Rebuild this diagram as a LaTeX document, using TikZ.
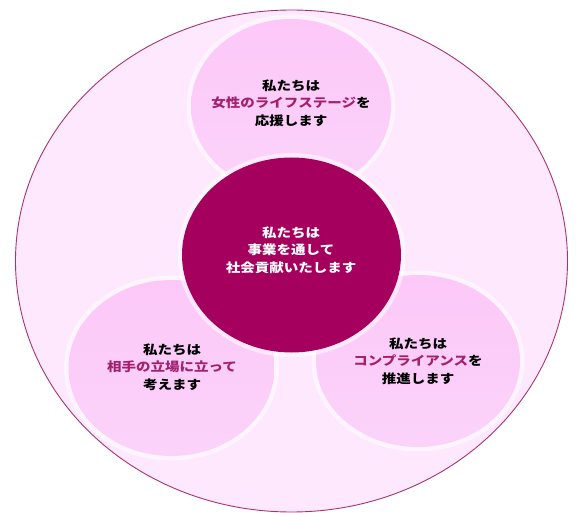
\documentclass[tikz,border=0pt]{standalone}
\usepackage{fontspec}
\setmainfont{Noto Sans CJK JP}[FakeStretch=1.16]
\usetikzlibrary{shapes.geometric}
\definecolor{outerfill}{HTML}{FDE8FD}
\definecolor{outerline}{HTML}{A8346E}
\definecolor{petal}{HTML}{FCC8F8}
\definecolor{petallow}{HTML}{FBD3F9}
\definecolor{core}{HTML}{A6005F}
\definecolor{accent}{HTML}{A3206E}
\tikzset{
  outerbox/.style={ellipse, draw=outerline, line width=0.9pt, fill=outerfill, inner sep=0pt},
  petalbox/.style={ellipse, inner sep=0pt, top color=petal, bottom color=petallow,
    preaction={draw=white, draw opacity=0.55, line width=9pt}},
  corebox/.style={ellipse, inner sep=0pt, fill=core,
    preaction={draw=white, draw opacity=0.55, line width=9pt}},
  txt/.style={align=center, font=\fontsize{12.5}{17.6}\selectfont\bfseries, text=black, inner sep=0pt},
  wtxt/.style={txt, text=white},
}
\begin{document}
\begin{tikzpicture}[x=1pt,y=-1pt]
\useasboundingbox (0,0) rectangle (576,513);
\node[outerbox, minimum width=552pt, minimum height=502pt] (outer) at (291.5,261) {};
\node[petalbox, minimum width=200pt, minimum height=174pt] (top) at (291,106) {};
\node[petalbox, minimum width=206pt, minimum height=176pt] (left) at (171.5,368) {};
\node[petalbox, minimum width=204pt, minimum height=172pt] (right) at (418,361) {};
\node[corebox, minimum width=219pt, minimum height=195pt] (center) at (291.5,255) {};
\node[wtxt] (ctext) at (291,250) {私たちは\\事業を通して\\社会貢献いたします};
\node[txt] (ttext) at (291,103) {私たちは\\\textcolor{accent}{女性のライフステージ}を\\応援します};
\node[txt] (ltext) at (172,367) {私たちは\\\textcolor{accent}{相手の立場に立って}\\考えます};
\node[txt] (rtext) at (418,361) {私たちは\\\textcolor{accent}{コンプライアンス}を\\推進します};
\end{tikzpicture}
\end{document}
